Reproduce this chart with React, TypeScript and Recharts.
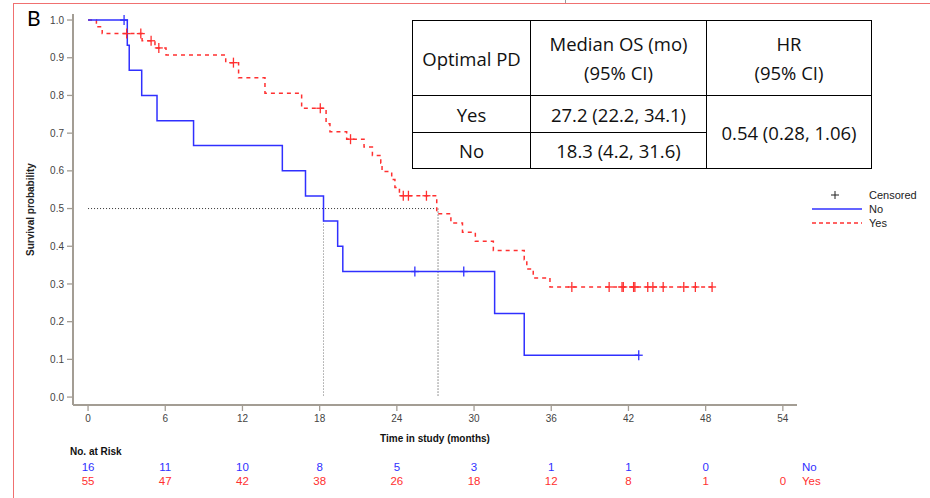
import React from 'react';
import { ComposedChart, Line, XAxis, YAxis, ReferenceLine } from 'recharts';

const xTicks = [0, 6, 12, 18, 24, 30, 36, 42, 48, 54];
const yTicks = [0, 0.1, 0.2, 0.3, 0.4, 0.5, 0.6, 0.7, 0.8, 0.9, 1.0];

// Optimal PD = No (blue)
const noTimes = [0, 2.8, 3.05, 3.2, 4.17, 5.36, 8.2, 15.1, 16.9, 18.3, 19.4, 19.8, 25.4, 29.2, 31.6, 33.9, 42.8];
const noSurv = [1, 1, 0.933, 0.867, 0.8, 0.733, 0.667, 0.6, 0.533, 0.467, 0.4, 0.333, 0.333, 0.333, 0.222, 0.111, 0.111];
const noCensored = [0, 1, 0, 0, 0, 0, 0, 0, 0, 0, 0, 0, 1, 1, 0, 0, 1];

// Optimal PD = Yes (red)
const yesTimes = [
  0, 0.65, 1.1, 3.0, 4.1, 4.2, 4.9, 5.2, 5.5, 6.06, 10.7, 11.3, 11.7, 13.75, 16.6, 18.05, 18.5, 18.8, 20.1, 20.4,
  21.45, 22.1, 22.75, 22.85, 23.6, 23.85, 24.2, 24.5, 24.9, 26.3, 27.1, 28.2, 29.1, 30.1, 31.5, 33.9, 34.1, 34.6,
  35.9, 37.6, 40.5, 41.5, 41.6, 42.4, 42.5, 43.5, 43.9, 44.7, 46.3, 47.2, 48.5,
];
const yesSurv = [
  1, 0.982, 0.964, 0.964, 0.964, 0.945, 0.945, 0.926, 0.926, 0.907, 0.887, 0.887, 0.847, 0.806, 0.766, 0.766, 0.725,
  0.704, 0.684, 0.684, 0.663, 0.641, 0.62, 0.598, 0.577, 0.556, 0.534, 0.534, 0.534, 0.534, 0.486, 0.462, 0.437,
  0.413, 0.389, 0.364, 0.34, 0.316, 0.292, 0.292, 0.292, 0.292, 0.292, 0.292, 0.292, 0.292, 0.292, 0.292, 0.292,
  0.292, 0.292,
];
const yesCensored = [
  0, 0, 0, 1, 1, 0, 1, 0, 1, 0, 0, 1, 0, 0, 0, 1, 0, 0, 0, 1, 0, 0, 0, 0, 0, 0, 0, 1, 1, 1, 0, 0, 0, 0, 0, 0, 0, 0,
  0, 1, 1, 1, 1, 1, 1, 1, 1, 1, 1, 1, 1,
];

const riskNo = [16, 11, 10, 8, 5, 3, 1, 1, 0];
const riskYes = [55, 47, 42, 38, 26, 18, 12, 8, 1, 0];

const medianNo = 18.3;
const medianYes = 27.2;

const tableGroups = ['Yes', 'No'];
const tableMedians = ['27.2 (22.2, 34.1)', '18.3 (4.2, 31.6)'];
const tableHr = '0.54 (0.28, 1.06)';

const BLUE = '#3030ff';
const RED = '#ff3030';
const AXIS = '#a39d94';
const FONT = '"Liberation Sans", Arial, sans-serif';
const X_DOMAIN = [-1.17, 55.1];

const noData = noTimes.map((t, i) => ({ t, s: noSurv[i], c: noCensored[i] === 1 }));
const yesData = yesTimes.map((t, i) => ({ t, s: yesSurv[i], c: yesCensored[i] === 1 }));

const censorDot = (color: string) => (props: any) => {
  const { cx, cy, payload, index } = props;
  if (!payload || !payload.c) return <g key={`d${index}`} />;
  return (
    <g key={`d${index}`}>
      <line x1={cx - 4} x2={cx + 4} y1={cy} y2={cy} stroke={color} strokeWidth={1.3} />
      <line x1={cx} x2={cx} y1={cy - 5} y2={cy + 5} stroke={color} strokeWidth={1.3} />
    </g>
  );
};

const riskFormatter = (arr: number[]) => (v: number) => {
  const i = xTicks.indexOf(v);
  return i >= 0 && i < arr.length ? String(arr[i]) : '';
};

const YLabel = (props: any) => {
  const { viewBox } = props;
  const cx = viewBox.x + 17;
  const cy = viewBox.y + viewBox.height / 2;
  return (
    <text x={cx} y={cy} transform={`rotate(-90 ${cx} ${cy})`} textAnchor="middle" dominantBaseline="central"
      fontFamily={FONT} fontSize={10} fontWeight="bold" fill="#222">
      Survival probability
    </text>
  );
};

const cell: React.CSSProperties = { border: '1.5px solid #000', textAlign: 'center', padding: 0, lineHeight: '29px' };

export default function App() {
  return (
    <div style={{ position: 'absolute', left: 0, top: 0, width: 930, height: 498, background: '#fff', overflow: 'hidden' }}>
      {/* red frame */}
      <div style={{ position: 'absolute', left: 13, top: 3, width: 930, height: 520, borderLeft: '1.5px solid #f07070', borderTop: '1.5px solid #f07070' }} />
      <div style={{ position: 'absolute', left: 565, top: 0, width: 1, height: 3, background: '#999' }} />
      <div style={{ position: 'absolute', left: 27, top: 5, fontFamily: 'Lato, sans-serif', fontSize: 21, color: '#000' }}>B</div>

      <ComposedChart width={930} height={498} margin={{ top: 14, right: 133, bottom: 11, left: 13 }} style={{ position: 'absolute', left: 0, top: 0 }}>
        <XAxis xAxisId="ax1" dataKey="t" type="number" domain={X_DOMAIN} allowDataOverflow ticks={xTicks} interval={0}
          height={40} tickSize={6} tickMargin={4} stroke={AXIS} axisLine={{ stroke: AXIS, strokeWidth: 2 }}
          tickLine={{ stroke: AXIS, strokeWidth: 1.3 }} tick={{ fill: '#444', fontSize: 10, fontFamily: FONT }}
          label={{ value: 'Time in study (months)', position: 'insideBottom', offset: 3, fill: '#111', fontSize: 10, fontWeight: 'bold', fontFamily: FONT }} />
        <XAxis xAxisId="ax2" dataKey="t" type="number" domain={X_DOMAIN} allowDataOverflow ticks={xTicks.slice(0, riskNo.length)}
          interval={0} height={22} tickSize={0} tickMargin={18} axisLine={false} tickLine={false}
          tickFormatter={riskFormatter(riskNo)} tick={{ fill: BLUE, fontSize: 11.5, fontFamily: FONT }} />
        <XAxis xAxisId="ax3" dataKey="t" type="number" domain={X_DOMAIN} allowDataOverflow ticks={xTicks.slice(0, riskYes.length)}
          interval={0} height={20} tickSize={0} tickMargin={10} axisLine={false} tickLine={false}
          tickFormatter={riskFormatter(riskYes)} tick={{ fill: RED, fontSize: 11.5, fontFamily: FONT }} />
        <YAxis type="number" domain={[-0.021, 1.016]} allowDataOverflow ticks={yTicks} interval={0} width={60}
          tickSize={6} tickMargin={3} tickFormatter={(v: number) => v.toFixed(1)}
          axisLine={{ stroke: AXIS, strokeWidth: 2 }} tickLine={{ stroke: AXIS, strokeWidth: 1.3 }}
          tick={{ fill: '#444', fontSize: 10, fontFamily: FONT }} label={<YLabel />} />

        <ReferenceLine xAxisId="ax1" segment={[{ x: 0, y: 0.5 }, { x: medianYes, y: 0.5 }]} stroke="#333" strokeDasharray="1 2" />
        <ReferenceLine xAxisId="ax1" segment={[{ x: medianNo, y: 0.5 }, { x: medianNo, y: 0 }]} stroke="#777" strokeDasharray="1 2" />
        <ReferenceLine xAxisId="ax1" segment={[{ x: medianYes, y: 0.5 }, { x: medianYes, y: 0 }]} stroke="#333" strokeDasharray="1 2" />

        <Line xAxisId="ax1" data={yesData} dataKey="s" type="stepAfter" stroke={RED} strokeWidth={1.5} strokeDasharray="4 4"
          dot={censorDot(RED)} activeDot={false} isAnimationActive={false} />
        <Line xAxisId="ax1" data={noData} dataKey="s" type="stepAfter" stroke={BLUE} strokeWidth={1.5}
          dot={censorDot(BLUE)} activeDot={false} isAnimationActive={false} />
      </ComposedChart>

      {/* risk table labels */}
      <div style={{ position: 'absolute', left: 70, top: 446, fontFamily: FONT, fontSize: 10, fontWeight: 'bold', color: '#111' }}>No. at Risk</div>
      <div style={{ position: 'absolute', left: 802, top: 461, fontFamily: FONT, fontSize: 11.5, color: BLUE }}>No</div>
      <div style={{ position: 'absolute', left: 802, top: 475, fontFamily: FONT, fontSize: 11.5, color: RED }}>Yes</div>

      {/* legend */}
      <svg style={{ position: 'absolute', left: 805, top: 186 }} width={60} height={44}>
        <line x1={26} x2={34} y1={9} y2={9} stroke="#222" strokeWidth={1} />
        <line x1={30} x2={30} y1={5} y2={13} stroke="#222" strokeWidth={1} />
        <line x1={7} x2={57} y1={23} y2={23} stroke={BLUE} strokeWidth={1.3} />
        <line x1={7} x2={57} y1={37} y2={37} stroke={RED} strokeWidth={1.3} strokeDasharray="4 3" />
      </svg>
      <div style={{ position: 'absolute', left: 869, top: 188, fontFamily: FONT, fontSize: 11, color: '#222', lineHeight: '14px' }}>
        <div>Censored</div>
        <div>No</div>
        <div>Yes</div>
      </div>

      {/* summary table */}
      <table style={{ position: 'absolute', left: 412, top: 20, borderCollapse: 'collapse', fontFamily: '"Open Sans", sans-serif', fontSize: 18.5, color: '#111' }}>
        <colgroup>
          <col style={{ width: 118 }} />
          <col style={{ width: 176 }} />
          <col style={{ width: 165 }} />
        </colgroup>
        <tbody>
          <tr style={{ height: 75 }}>
            <td style={cell}>Optimal PD</td>
            <td style={cell}>Median OS (mo)<br />(95% CI)</td>
            <td style={cell}>HR<br />(95% CI)</td>
          </tr>
          {tableGroups.map((g, i) => (
            <tr key={g} style={{ height: i === 0 ? 37 : 36 }}>
              <td style={cell}>{g}</td>
              <td style={cell}>{tableMedians[i]}</td>
              {i === 0 && <td style={cell} rowSpan={2}>{tableHr}</td>}
            </tr>
          ))}
        </tbody>
      </table>
    </div>
  );
}
